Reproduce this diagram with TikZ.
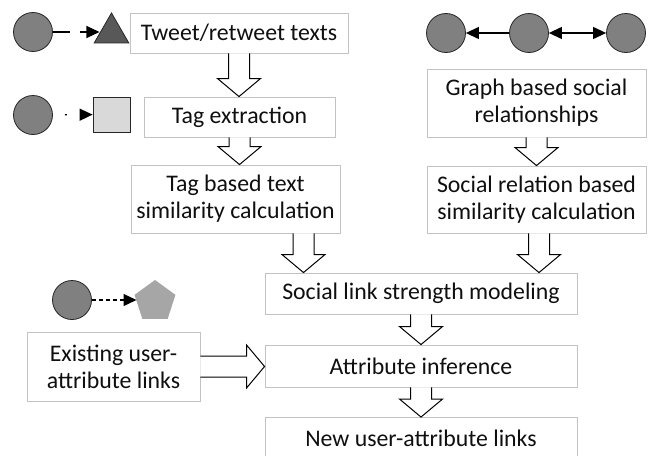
\documentclass[tikz,border=0pt]{standalone}
\usepackage{fontspec}
\setmainfont{Carlito}
\usetikzlibrary{calc,arrows.meta,shapes.geometric}

\definecolor{boxline}{RGB}{195,195,195}
\definecolor{txt}{RGB}{15,15,15}
\definecolor{dotgray}{RGB}{128,128,128}
\definecolor{darktri}{RGB}{88,88,88}
\definecolor{lightsq}{RGB}{217,217,217}
\definecolor{pentgray}{RGB}{166,166,166}

\tikzset{
  stage/.style={draw=boxline, line width=0.9pt, fill=white, rectangle, inner sep=0pt,
    align=center, text=txt, font=\fontsize{23.8}{27}\selectfont},
  entity/.style={circle, draw=black!85, fill=dotgray, line width=0.8pt, minimum size=39pt, inner sep=0pt},
  hollow/.style={draw=black, fill=white, line width=1pt, line join=miter},
  link/.style={line width=1.2pt, black},
  tip/.style={-{Triangle[length=13pt,width=12pt]}},
}

% block arrow pointing down from #1 to #2, shifted sideways by #3
\newcommand\blockdown[3]{%
  \coordinate (bs) at ($(#1.south)+(#3,0)$);
  \coordinate (bt) at (bs |- #2.north);
  \filldraw[hollow] ($(bs)+(-10.5,0)$) -- ($(bt)+(-10.5,-18)$) -- ($(bt)+(-21.5,-18)$) -- (bt)
    -- ($(bt)+(21.5,-18)$) -- ($(bt)+(10.5,-18)$) -- ($(bs)+(10.5,0)$);}

% block arrow pointing right from #1 to #2
\newcommand\blockright[2]{%
  \coordinate (bs) at (#1.east);
  \coordinate (bt) at (#2.west |- bs);
  \filldraw[hollow] ($(bs)+(0,-10.5)$) -- ($(bt)+(-18,-10.5)$) -- ($(bt)+(-18,-21.5)$) -- (bt)
    -- ($(bt)+(-18,21.5)$) -- ($(bt)+(-18,10.5)$) -- ($(bs)+(0,10.5)$);}

\begin{document}
\begin{tikzpicture}[x=1pt, y=-1pt]
\clip (0,0) rectangle (653,455);
\fill[white] (0,0) rectangle (653,455);

% processing stages
\node[stage, minimum width=218pt, minimum height=40pt] (tweet)  at (239,33)    {Tweet/retweet texts};
\node[stage, minimum width=191pt, minimum height=40pt] (tagx)   at (239.5,117) {Tag extraction};
\node[stage, minimum width=209pt, minimum height=68pt] (tagsim) at (235.5,199) {Tag based text\\similarity calculation};
\node[stage, minimum width=219pt, minimum height=68pt] (graph)  at (536.5,103) {Graph based social\\relationships};
\node[stage, minimum width=219pt, minimum height=67pt] (socsim) at (536.5,199.5) {Social relation based\\similarity calculation};
\node[stage, minimum width=312pt, minimum height=41pt] (strength) at (421,293.5) {Social link strength modeling};
\node[stage, minimum width=312pt, minimum height=42pt] (infer)  at (421,366)   {Attribute inference};
\node[stage, minimum width=312pt, minimum height=42pt] (newl)   at (421,438.5) {New user-attribute links};
\node[stage, minimum width=173pt, minimum height=69pt] (exist)  at (113.5,366.5) {Existing user-\\attribute links};

% flow between stages
\blockdown{tweet}{tagx}{0}
\blockdown{tagx}{tagsim}{0}
\blockdown{graph}{socsim}{0}
\blockdown{tagsim}{strength}{68}
\blockdown{socsim}{strength}{2.5}
\blockdown{strength}{infer}{0}
\blockdown{infer}{newl}{0}
\blockright{exist}{infer}

% legend: user posts a tweet
\node[entity] (u1) at (33,32) {};
\node[draw=black!85, fill=darktri, line width=0.8pt, isosceles triangle, isosceles triangle apex angle=60,
  shape border rotate=90, minimum height=30pt, inner sep=0pt] (tw) at (111.5,33) {};
\draw[link, tip, dash pattern=on 17pt off 10pt] (u1) -- (tw.west |- u1);

% legend: tweet carries a tag
\node[entity] (u2) at (33,115) {};
\node[draw=black!85, fill=lightsq, line width=0.8pt, minimum width=37pt, minimum height=35pt, inner sep=0pt] (tg) at (111.5,114.5) {};
\draw[link, tip, dash pattern=on 0pt off 12pt on 2pt off 60pt] (u2) -- (tg);

% legend: social graph
\node[entity] (g1) at (446,33) {};
\node[entity] (g2) at (529,33) {};
\node[entity] (g3) at (626,33) {};
\draw[link, tip] (g2) -- (g1);
\draw[link, {Triangle[length=13pt,width=12pt]}-{Triangle[length=13pt,width=12pt]}] (g2) -- (g3);

% legend: user-attribute link
\node[entity] (u4) at (72,300) {};
\node[regular polygon, regular polygon sides=5, fill=pentgray, minimum size=43pt, inner sep=0pt] (attr) at (155,301.5) {};
\draw[link, tip, dash pattern=on 4pt off 3pt] (u4) -- (attr.west |- u4);
\end{tikzpicture}
\end{document}
